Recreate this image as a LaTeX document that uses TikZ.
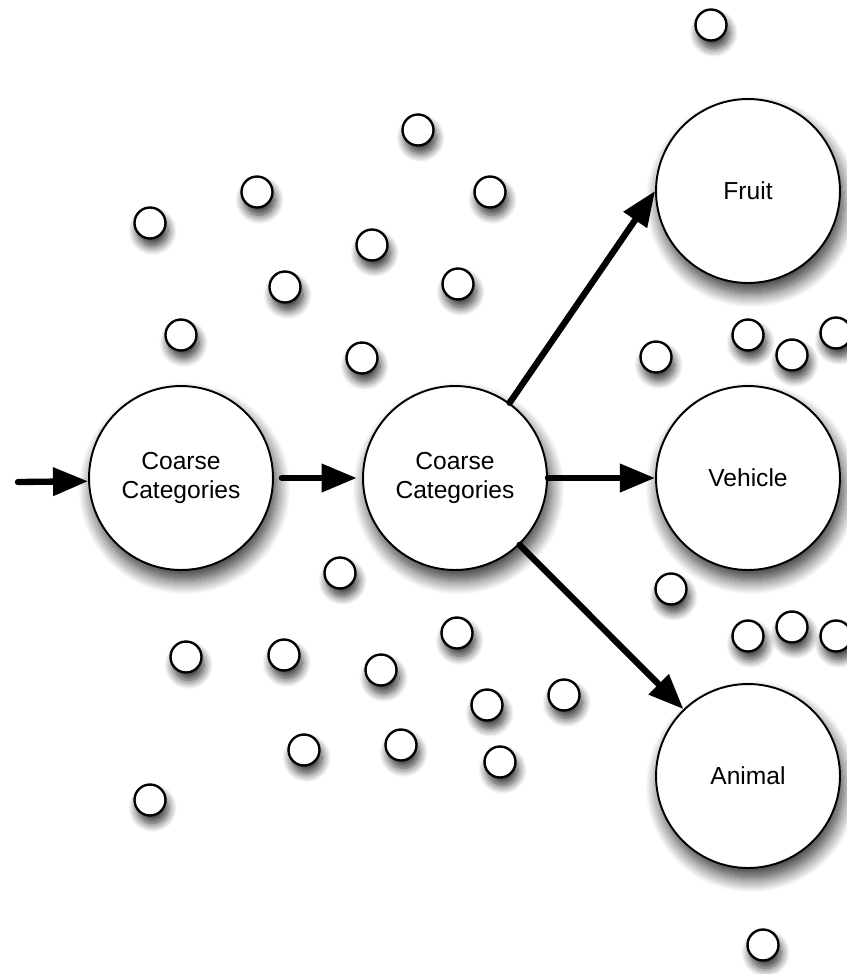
\documentclass[tikz,border=0pt]{standalone}
\usepackage{fontspec}
\setmainfont{Liberation Sans}
\usepackage{xcolor}
\usepackage{tikz}
\usetikzlibrary{arrows.meta,shadows.blur}
\definecolor{ink}{HTML}{000000}
\definecolor{paper}{HTML}{FFFFFF}
\tikzset{
  cat/.style={circle, draw=ink, fill=paper, line width=1.1pt, minimum size=3.68cm,
    inner sep=0pt, align=center, font=\fontsize{14}{16}\selectfont,
    blur shadow={shadow xshift=2pt, shadow yshift=-6pt, shadow blur radius=8pt,
      shadow blur steps=14, shadow opacity=80}},
  dot/.style={circle, draw=ink, fill=paper, line width=1.35pt, minimum size=0.62cm, inner sep=0pt,
    blur shadow={shadow xshift=1.5pt, shadow yshift=-4.5pt, shadow blur radius=5pt,
      shadow blur steps=12, shadow opacity=80}},
  flow/.style={draw=ink, line width=3.6pt, line cap=round, -{Triangle[length=20pt,width=15.5pt]}},
}

\begin{document}
\begin{tikzpicture}[x=0.02cm, y=-0.02cm]
  \useasboundingbox (0,0) rectangle (846,974);
  % scattered small circles
  \foreach \px/\py [count=\i] in {711/25, 418/130, 257/192, 490/192, 150/223, 372/245,
      285/287, 458/284, 181/335, 362/358, 656/357, 748/335, 792/355, 836/333,
      340/573, 671/589, 457/633, 186/657, 284/655, 381/670, 748/636, 792/627,
      836/636, 564/695, 487/705, 304/750, 401/745, 500/762, 150/800, 763/945}
    \node[dot] (d\i) at (\px,\py) {};
  % category circles
  \node[cat] (coarseA) at (181,478) {Coarse\\Categories};
  \node[cat] (coarseB) at (455,478) {Coarse\\Categories};
  \node[cat] (fruit)   at (748,191) {Fruit};
  \node[cat] (vehicle) at (748,478) {Vehicle};
  \node[cat] (animal)  at (748,776) {Animal};
  \coordinate (input) at (18,482);
  % arrows
  \draw[flow] (input) -- (coarseA.182);
  \draw[flow, shorten <=4.5pt, shorten >=3pt] (coarseA.east) -- (coarseB.west);
  \draw[flow] (coarseB.54) -- (fruit.west);
  \draw[flow] (coarseB.east) -- (vehicle.west);
  \draw[flow] (coarseB.-46) -- (animal.134);
\end{tikzpicture}
\end{document}
